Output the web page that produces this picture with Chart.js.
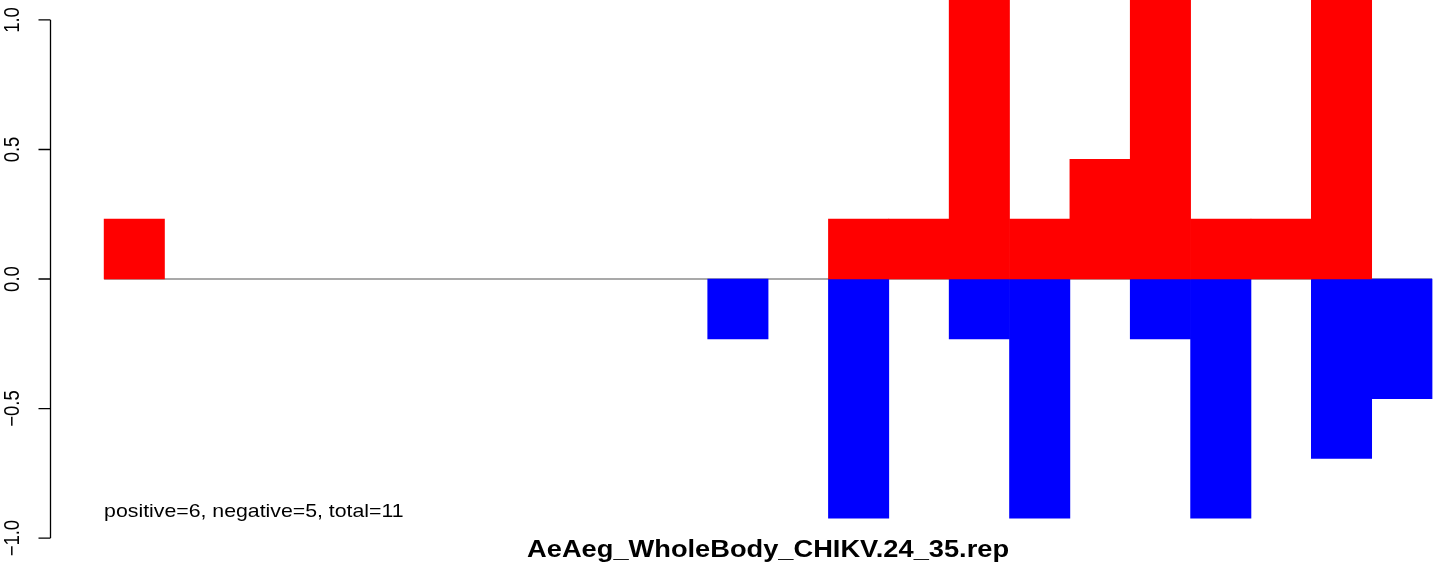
<!DOCTYPE html>
<html>
<head>
<meta charset="utf-8">
<script src="https://cdn.jsdelivr.net/npm/chart.js@4/dist/chart.umd.min.js"></script>
<style>
  html, body { margin: 0; padding: 0; background: #fff; overflow: hidden; }
  canvas { display: block; }
</style>
</head>
<body>
<canvas id="bars" width="1444" height="571"></canvas>
<script>
// bins along the x axis (bar centres sit at bin - 0.5)
const bins = [1, 2, 3, 4, 5, 6, 7, 8, 9, 10, 11, 12, 13, 14, 15, 16, 17, 18, 19, 20, 21, 22];
// positive side (red) and negative side (blue)
const positives = [0.231, 0, 0, 0, 0, 0, 0, 0, 0, 0, 0, 0, 0.231, 0.231, 1.38, 0.231, 0.462, 1.38, 0.231, 0.231, 1.38, 0];
const negatives = [0, 0, 0, 0, 0, 0, 0, 0, 0, 0, -0.231, 0, -0.923, 0, -0.231, -0.923, 0, -0.231, -0.923, 0, -0.692, -0.462];
const yTicks = [-1, -0.5, 0, 0.5, 1];
const yTickLabels = ["\u22121.0", "\u22120.5", "0.0", "0.5", "1.0"];
const title = "AeAeg_WholeBody_CHIKV.24_35.rep";
const note = "positive=6, negative=5, total=11";

const STRETCH = 1.15; // the reference text is a bit wider than it is tall
const FONT = "Liberation Sans, Arial, sans-serif";

function DrawText(ctx, text, x, y, font, align, rotate) {
    // Draws text at (x, y) (baseline), widened horizontally by STRETCH.
    ctx.save();
    ctx.translate(x, y);
    ctx.scale(STRETCH, 1);
    if (rotate) ctx.rotate(-Math.PI / 2);
    ctx.font = font;
    ctx.textAlign = align;
    ctx.textBaseline = "alphabetic";
    ctx.fillStyle = "#000";
    ctx.fillText(text, 0, 0);
    ctx.restore();
}

const rAxis = {
    id: "rAxis",
    afterDraw(chart) {
        const ctx = chart.ctx;
        const xs = chart.scales.x, ys = chart.scales.y;
        const left = chart.chartArea.left - 0.5;
        ctx.save();
        ctx.strokeStyle = "#000";
        ctx.lineWidth = 1.3;
        ctx.beginPath();
        ctx.moveTo(left, ys.getPixelForValue(yTicks[yTicks.length - 1]));
        ctx.lineTo(left, ys.getPixelForValue(yTicks[0]));
        yTicks.forEach(function (v) {
            const py = ys.getPixelForValue(v);
            ctx.moveTo(left, py);
            ctx.lineTo(left - 12, py);
        });
        ctx.stroke();
        ctx.restore();
        yTicks.forEach(function (v, i) {
            DrawText(ctx, yTickLabels[i], 19, ys.getPixelForValue(v), "18.5px " + FONT, "center", true);
        });
        // note inside the plot, left aligned on the first bar
        DrawText(ctx, note, xs.getPixelForValue(0), 517, "18.5px " + FONT, "left", false);
        // main title under the plot, centred on the bars
        DrawText(ctx, title, xs.getPixelForValue(bins.length / 2), 557, "bold 23.7px " + FONT, "center", false);
    }
};

const centres = bins.map(function (b) { return b - 0.5; });

function Points(values) {
    // empty bins are left out so no zero-height sliver is drawn
    return centres.map(function (x, i) { return { x: x, y: values[i] === 0 ? null : values[i] }; });
}

new Chart(document.getElementById("bars"), {
    type: "bar",
    data: {
        datasets: [
            {
                label: "positive",
                data: Points(positives),
                backgroundColor: "#ff0000",
                borderWidth: 0,
                barPercentage: 1,
                categoryPercentage: 1,
                stack: "bars",
                order: 1
            },
            {
                label: "negative",
                data: Points(negatives),
                backgroundColor: "#0000ff",
                borderWidth: 0,
                barPercentage: 1,
                categoryPercentage: 1,
                stack: "bars",
                order: 1
            },
            {
                type: "line",
                label: "zero",
                data: [{ x: 0, y: 0 }, { x: bins.length, y: 0 }],
                borderColor: "#8c8c8c",
                borderWidth: 1.5,
                pointRadius: 0,
                stack: "zero",
                order: 2
            }
        ]
    },
    options: {
        responsive: false,
        animation: false,
        devicePixelRatio: 1,
        layout: { padding: { left: 51, right: 0, top: 0, bottom: 0 } },
        plugins: {
            legend: { display: false },
            tooltip: { enabled: false },
            title: { display: false }
        },
        scales: {
            x: {
                type: "linear", display: false, offset: false, stacked: true,
                min: -0.88, max: 22.198,
                afterBuildTicks: function (s) { s.ticks = centres.map(function (v) { return { value: v }; }); }
            },
            y: { display: false, min: -1.127, max: 1.077, stacked: true }
        }
    },
    plugins: [rAxis]
});
</script>
</body>
</html>
